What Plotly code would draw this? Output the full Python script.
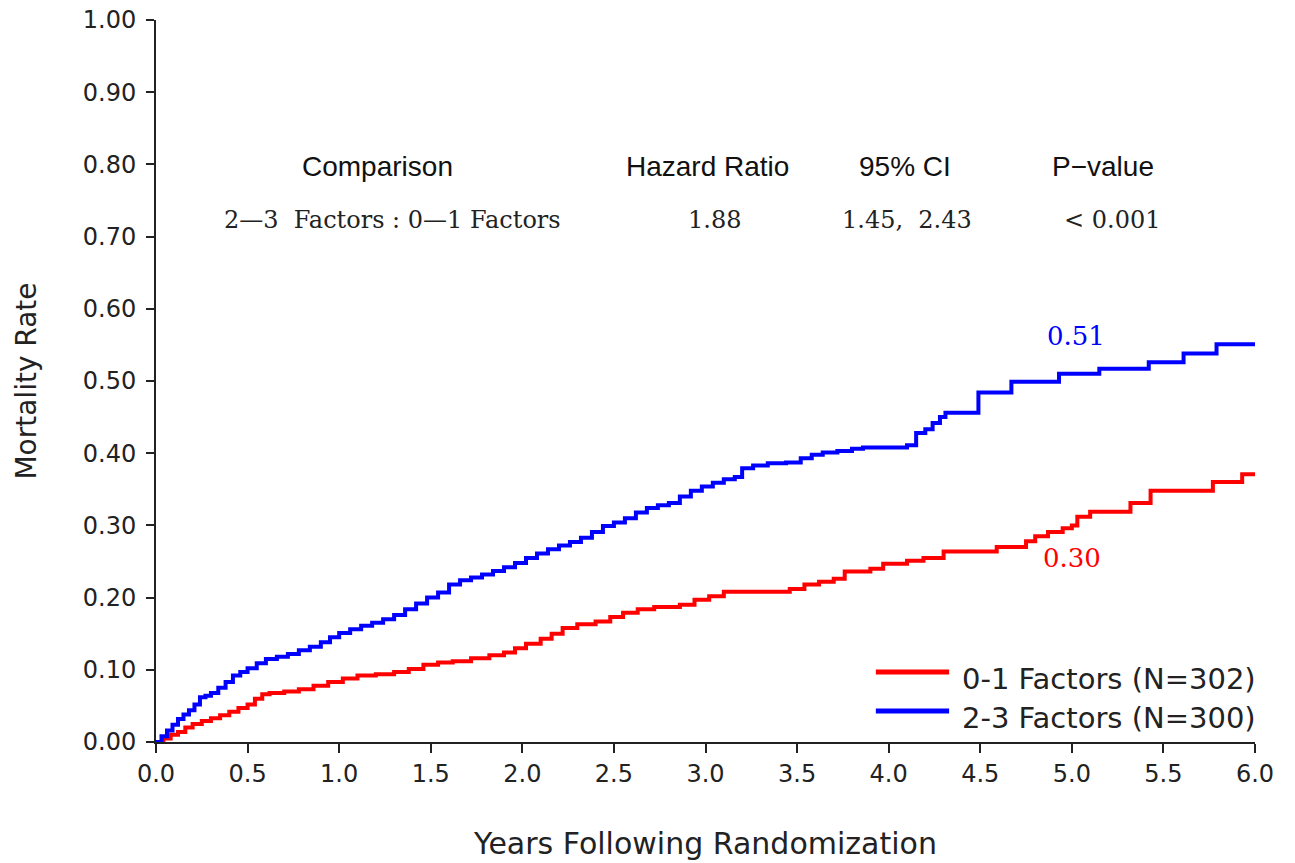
import plotly.graph_objects as go

# Kaplan-Meier style cumulative mortality by risk-factor group
years_low = [0, 0.04, 0.08, 0.12, 0.16, 0.20, 0.25, 0.30, 0.35, 0.40, 0.45, 0.50, 0.54, 0.58,
             0.62, 0.70, 0.78, 0.86, 0.94, 1.02, 1.10, 1.20, 1.30, 1.38, 1.46, 1.54, 1.62, 1.72,
             1.82, 1.90, 1.96, 2.02, 2.10, 2.16, 2.22, 2.30, 2.40, 2.48, 2.55, 2.63, 2.72, 2.86,
             2.94, 3.02, 3.10, 3.46, 3.54, 3.62, 3.70, 3.76, 3.90, 3.97, 4.10, 4.19, 4.30, 4.59,
             4.75, 4.80, 4.87, 4.95, 5.00, 5.03, 5.10, 5.32, 5.43, 5.77, 5.93, 6.00]
rate_low = [0.000, 0.005, 0.010, 0.014, 0.020, 0.025, 0.029, 0.033, 0.037, 0.042, 0.047, 0.052,
            0.060, 0.066, 0.068, 0.070, 0.073, 0.078, 0.083, 0.088, 0.092, 0.094, 0.097, 0.101,
            0.107, 0.110, 0.112, 0.116, 0.120, 0.124, 0.130, 0.136, 0.143, 0.150, 0.158, 0.163,
            0.167, 0.173, 0.179, 0.184, 0.187, 0.190, 0.197, 0.202, 0.208, 0.212, 0.218, 0.222,
            0.226, 0.236, 0.240, 0.247, 0.251, 0.255, 0.264, 0.270, 0.278, 0.285, 0.291, 0.296,
            0.300, 0.312, 0.319, 0.331, 0.348, 0.360, 0.371, 0.371]

years_high = [0, 0.03, 0.06, 0.09, 0.12, 0.15, 0.18, 0.21, 0.24, 0.27, 0.30, 0.34, 0.38, 0.42,
              0.46, 0.50, 0.55, 0.60, 0.66, 0.72, 0.78, 0.84, 0.90, 0.95, 1.00, 1.06, 1.12, 1.18,
              1.24, 1.30, 1.36, 1.42, 1.48, 1.54, 1.60, 1.66, 1.72, 1.78, 1.84, 1.90, 1.96, 2.02,
              2.08, 2.14, 2.20, 2.26, 2.32, 2.38, 2.44, 2.50, 2.56, 2.62, 2.68, 2.74, 2.80, 2.86,
              2.92, 2.98, 3.04, 3.10, 3.16, 3.20, 3.26, 3.34, 3.44, 3.52, 3.58, 3.64, 3.72, 3.80,
              3.86, 4.10, 4.15, 4.20, 4.24, 4.28, 4.31, 4.49, 4.67, 4.93, 5.15, 5.42, 5.61, 5.79,
              6.00]
rate_high = [0.000, 0.008, 0.016, 0.024, 0.032, 0.038, 0.044, 0.052, 0.062, 0.064, 0.068, 0.075,
             0.083, 0.092, 0.097, 0.102, 0.109, 0.115, 0.118, 0.122, 0.127, 0.132, 0.138, 0.145,
             0.151, 0.156, 0.161, 0.165, 0.170, 0.176, 0.184, 0.192, 0.200, 0.207, 0.218, 0.224,
             0.228, 0.232, 0.237, 0.242, 0.248, 0.255, 0.261, 0.267, 0.272, 0.277, 0.283, 0.291,
             0.299, 0.304, 0.310, 0.318, 0.324, 0.328, 0.331, 0.340, 0.348, 0.354, 0.359, 0.364,
             0.367, 0.379, 0.383, 0.386, 0.387, 0.393, 0.398, 0.401, 0.403, 0.406, 0.408, 0.411,
             0.428, 0.433, 0.442, 0.450, 0.456, 0.484, 0.499, 0.510, 0.517, 0.526, 0.538, 0.551,
             0.551]

group_names = ["0-1 Factors (N=302)", "2-3 Factors (N=300)"]
group_colors = ["#ff0000", "#0000ff"]

# Five-year rates shown next to each curve
five_year = [0.30, 0.51]

x_ticks = [0.0, 0.5, 1.0, 1.5, 2.0, 2.5, 3.0, 3.5, 4.0, 4.5, 5.0, 5.5, 6.0]
y_ticks = [0.0, 0.1, 0.2, 0.3, 0.4, 0.5, 0.6, 0.7, 0.8, 0.9, 1.0]

NB = "\u00a0"
table_header = ["Comparison", "Hazard Ratio", "95% CI", "P\u2212value"]
table_row = ["2\u20143" + NB * 2 + "Factors" + NB + ":" + NB + "0\u20141" + NB + "Factors",
             "1.88", "1.45," + NB * 2 + "2.43", "<" + NB + "0.001"]

SANS = "DejaVu Sans"
SERIF = "DejaVu Serif, serif"
HEAD = "Liberation Sans, Arial, sans-serif"

fig = go.Figure()
for xs, ys, name, col in [(years_low, rate_low, group_names[0], group_colors[0]),
                          (years_high, rate_high, group_names[1], group_colors[1])]:
    fig.add_trace(go.Scatter(x=xs, y=ys, mode="lines", name=name,
                             line=dict(color=col, width=4, shape="hv"),
                             showlegend=False))

annotations = []
# comparison table
head_x = [1.21, 3.01, 4.09, 5.17]
row_x = [1.29, 3.05, 4.10, 5.22]
for txt, xv in zip(table_header, head_x):
    annotations.append(dict(x=xv, y=0.797, xref="x", yref="y", text=txt, showarrow=False,
                            font=dict(family=HEAD, size=28, color="#111111")))
for txt, xv in zip(table_row, row_x):
    annotations.append(dict(x=xv, y=0.723, xref="x", yref="y", text=txt, showarrow=False,
                            font=dict(family=SERIF, size=24, color="#222222")))

# five-year rate labels
annotations.append(dict(x=5.0, y=0.255, xref="x", yref="y", text=f"{five_year[0]:.2f}",
                        showarrow=False, font=dict(family=SERIF, size=26, color=group_colors[0])))
annotations.append(dict(x=5.02, y=0.562, xref="x", yref="y", text=f"{five_year[1]:.2f}",
                        showarrow=False, font=dict(family=SERIF, size=26, color=group_colors[1])))

# legend drawn as line samples with labels
shapes = []
leg_y = [0.097, 0.043]
for i in range(2):
    shapes.append(dict(type="line", xref="x", yref="y", x0=3.93, x1=4.33, y0=leg_y[i], y1=leg_y[i],
                       line=dict(color=group_colors[i], width=5)))
    annotations.append(dict(x=4.39, y=leg_y[i] - 0.010, xref="x", yref="y", text=group_names[i],
                            showarrow=False, xanchor="left",
                            font=dict(family=SANS, size=29, color="#222222")))

fig.update_layout(
    width=1295, height=863,
    margin=dict(l=156, r=40, t=20, b=121, autoexpand=False),
    plot_bgcolor="white", paper_bgcolor="white",
    annotations=annotations, shapes=shapes,
    xaxis=dict(range=[0, 6], tickvals=x_ticks, ticktext=[f"{v:.1f}" for v in x_ticks],
               showgrid=False, zeroline=False, showline=True, linecolor="#222222", linewidth=2,
               ticks="outside", ticklen=9, tickwidth=2, tickcolor="#222222", automargin=False,
               tickfont=dict(family=SANS, size=24, color="#222222"),
               title=dict(text="Years Following Randomization", standoff=46,
                          font=dict(family=SANS, size=30, color="#222222"))),
    yaxis=dict(range=[0, 1], tickvals=y_ticks, ticktext=[f"{v:.2f}" for v in y_ticks],
               showgrid=False, zeroline=False, showline=True, linecolor="#222222", linewidth=2,
               ticks="outside", ticklen=8, tickwidth=2, tickcolor="#222222", automargin=False,
               ticklabelstandoff=5,
               tickfont=dict(family=SANS, size=24, color="#222222"),
               title=dict(text="Mortality Rate", standoff=38,
                          font=dict(family=SANS, size=28, color="#222222"))),
)

fig.write_html("out.html")
